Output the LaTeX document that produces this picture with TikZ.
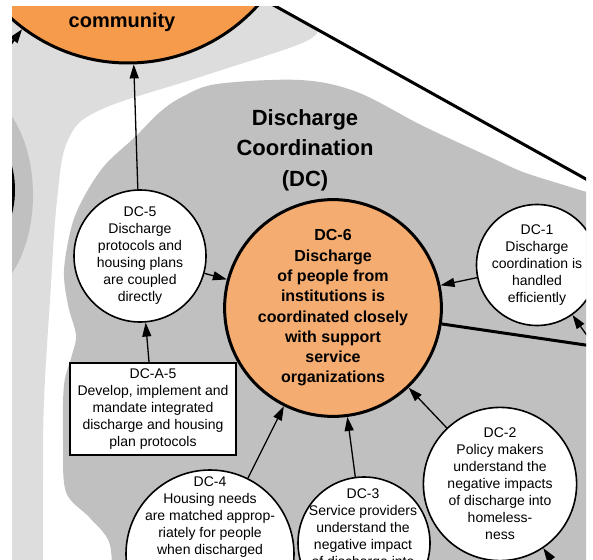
\documentclass[tikz,border=0pt]{standalone}
\usepackage{fontspec}
\setmainfont{Liberation Sans}
\usetikzlibrary{arrows.meta}
\definecolor{lightbg}{RGB}{221,221,221}
\definecolor{clustergrey}{RGB}{192,192,192}
\definecolor{hubfill}{RGB}{245,172,112}
\definecolor{commfill}{RGB}{245,155,75}
\begin{document}
\begin{tikzpicture}[x=1pt,y=-1pt,>={Triangle[length=14pt,width=9pt]},
	bubble/.style={circle,draw,fill=white,line width=1.6pt,inner sep=0pt,align=center,font=\fontsize{14}{17}\selectfont},
	hub/.style={circle,draw,fill=hubfill,line width=3pt,inner sep=0pt,align=center,font=\bfseries\fontsize{16}{20.3}\selectfont},
	actbox/.style={rectangle,draw,fill=white,line width=1.6pt,minimum width=166pt,minimum height=92pt,inner sep=0pt,align=center,font=\fontsize{14}{17}\selectfont},
	bubbletext/.style={inner sep=0pt,align=center,font=\fontsize{14}{17}\selectfont},
	arrow/.style={->,line width=1.3pt},
	heavy/.style={line width=3pt}]
	\useasboundingbox (0,0) rectangle (593,559);
	\begin{scope}
		\clip (12,7) rectangle (586,559);
		\fill[white] (12,7) rectangle (586,559);
		\fill[lightbg] (0,-10)--(247,-10)--(318,30)--plot[smooth,tension=0.6] coordinates{(318,30) (300,44) (200,77) (100,110) (68,140) (57,200) (50,300) (44,400) (43,480) (43,600)}--(0,600)--cycle;
		\fill[clustergrey] (-30,195) ellipse[x radius=63,y radius=105];
		\fill[clustergrey] plot[smooth,tension=0.55] coordinates{(112,600) (110,545) (90,518) (66,492) (63,440) (64,385) (72,355) (76,335) (68,305) (64,270) (72,225) (85,195) (105,165) (135,137) (160,112) (182,97) (217,84) (300,80) (357,92) (423,126) (490,157) (523,172) (567,186) (600,196)}--(640,200)--(640,600)--cycle;
		\coordinate (diagA) at (250,-8);
		\coordinate (diagB) at (620,198);
		\coordinate (inA) at (-10,72);
		\coordinate (inB) at (575,595);
		\coordinate (inC) at (610,368);
		\coordinate (outA) at (640,353);
		\node[circle,draw,fill=commfill,line width=3pt,minimum size=190pt] (leftnode) at (-81.5,190) {};
		\node[circle,draw,fill=commfill,line width=3pt,minimum size=350pt] (comm) at (128,-112) {};
		\node[inner sep=0pt,font=\bfseries\fontsize{20}{24}\selectfont] (commtext) at (122,22) {community};
		\node[inner sep=0pt,align=center,font=\bfseries\fontsize{22}{30.5}\selectfont] (title) at (305,150) {Discharge\\Coordination\\(DC)};
		\node[hub,minimum size=200pt] (dc6) at (333,308) {DC-6\\Discharge\\of people from\\institutions is\\coordinated closely\\with support\\service\\organizations};
		\node[bubble,minimum size=132pt] (dc5) at (140,256) {DC-5\\Discharge\\protocols and\\housing plans\\are coupled\\directly};
		\node[bubble,minimum size=120pt] (dc1) at (537,265) {DC-1\\Discharge\\coordination is\\handled\\efficiently};
		\node[bubble,minimum size=134pt] (dc2) at (500,484) {DC-2\\Policy makers\\understand the\\negative impacts\\of discharge into\\homeless-\\ness};
		\node[actbox] (dca5) at (153,409) {DC-A-5\\Develop, implement and\\mandate integrated\\discharge and housing\\plan protocols};
		\node[bubble,minimum size=168pt] (dc4) at (210,554) {};
		\node[bubbletext,anchor=north] (dc4text) at (210,477) {DC-4\\Housing needs\\are matched approp-\\riately for people\\when discharged};
		\node[bubble,minimum size=132pt] (dc3) at (364,543) {};
		\node[bubbletext,anchor=north] (dc3text) at (363,489) {DC-3\\Service providers\\understand the\\negative impact\\of discharge into};
		\draw[heavy](diagA)--(diagB);
		\draw[heavy](dc6)--(outA);
		\draw[arrow](dc5)--(comm);
		\draw[arrow](dc5)--(dc6);
		\draw[arrow](dca5)--(dc5);
		\draw[arrow](dc1)--(dc6);
		\draw[arrow](dc4)--(dc6);
		\draw[arrow](dc3)--(dc6);
		\draw[arrow](dc2)--(dc6);
		\draw[->,line width=2pt](inA)--(comm);
		\draw[arrow](inB)--(dc2);
		\draw[arrow](inC)--(dc1);
	\end{scope}
\end{tikzpicture}
\end{document}
